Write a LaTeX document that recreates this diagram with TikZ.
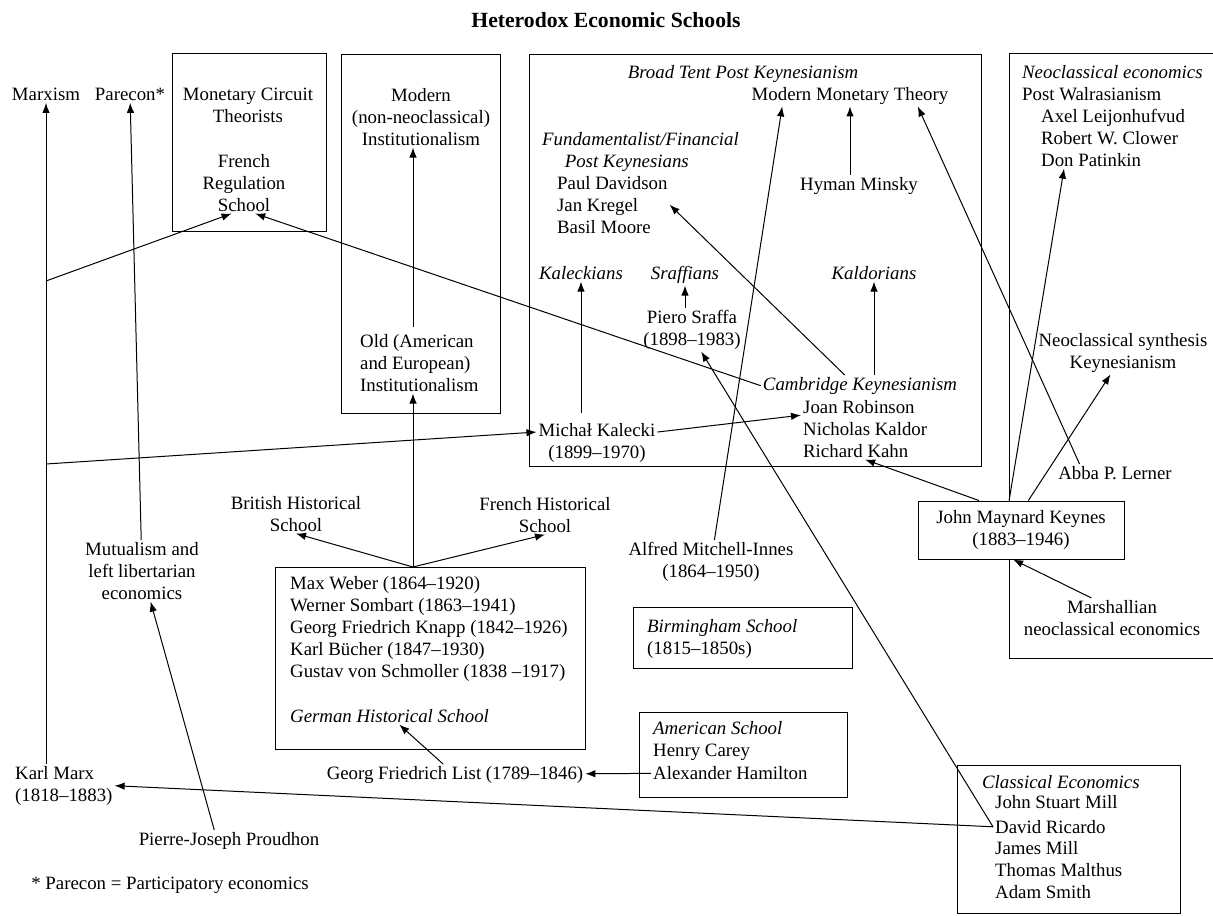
\documentclass[tikz,border=0pt]{standalone}
\usepackage{fontspec}
\setmainfont{Liberation Serif}
\usepackage{tikz}
\usetikzlibrary{arrows.meta}
\newcommand{\diagfont}{\fontsize{11.3}{13.2}\selectfont}

\begin{document}
\begin{tikzpicture}[x=0.6pt, y=-0.6pt, line width=0.6pt, >={Latex[length=6pt, width=4.5pt]},
  every node/.style={font=\diagfont, inner sep=1pt},
  lbl/.style={align=center, anchor=north},
  lst/.style={align=left, anchor=north west},
  school/.style={font=\diagfont\itshape}]

\useasboundingbox (0,0) rectangle (1213,916);

% boxes
\draw (172,54) rectangle (326,232);
\draw (341,55) rectangle (500,413);
\draw (529,55) rectangle (981,466);
\draw (1213,54) -- (1009,54) -- (1009,658) -- (1213,658);
\draw (275,567) rectangle (585,749);
\draw (633,607) rectangle (852,668);
\draw (639,712) rectangle (847,797);
\draw (957,765) rectangle (1180,913);

\node [anchor=north, font=\fontsize{13}{15}\selectfont\bfseries] (title) at (606,10) {Heterodox Economic Schools};

% left column
\node [lbl] (marxism) at (46,86) {Marxism};
\node [lbl] (parecon) at (130,86) {Parecon*};
\node [lbl] (mutualism) at (142,540) {Mutualism and\\left libertarian\\economics};
\node [lst] (marx) at (13,764) {Karl Marx\\(1818--1883)};
\node [lbl] (proudhon) at (229,830) {Pierre-Joseph Proudhon};
\node [lbl] (footnote) at (170,875) {* Parecon = Participatory economics};

\coordinate (mxa) at (46,281);
\coordinate (mxb) at (46,464);

% circuit and institutionalists
\node [lbl] (circuit) at (248,86) {Monetary Circuit\\Theorists};
\node [lbl] (regulation) at (244,152) {French\\Regulation\\School};
\node [lbl] (modinst) at (421,86) {Modern\\(non-neoclassical)\\Institutionalism};
\node [lst] (oldinst) at (358,332) {Old (American\\and European)\\Institutionalism};

% post keynesians
\node [lbl, school] (broadtent) at (743,63) {Broad Tent Post Keynesianism};
\node [lbl] (mmt) at (850,85) {Modern Monetary Theory};
\node [lst, school] (fundam) at (540,130) {Fundamentalist/Financial\\\hspace*{1.2em}Post Keynesians};
\node [lst] (davidson) at (555,174) {Paul Davidson\\Jan Kregel\\Basil Moore};
\node [lbl] (minsky) at (859,175) {Hyman Minsky};
\node [lbl, school] (kaleckians) at (581,264) {Kaleckians};
\node [lbl, school] (sraffians) at (685,264) {Sraffians};
\node [lbl, school] (kaldorians) at (874,264) {Kaldorians};
\node [lbl] (sraffa) at (692,308) {Piero Sraffa\\(1898--1983)};
\node [lbl, school] (cambridge) at (860,375) {Cambridge Keynesianism};
\node [lst] (cambgroup) at (801,398) {Joan Robinson\\Nicholas Kaldor\\Richard Kahn};
\node [lbl] (kalecki) at (597,421) {Michał Kalecki\\(1899--1970)};

% neoclassical side
\node [lst, school] (necon) at (1020,63) {Neoclassical economics};
\node [lst] (walras) at (1020,85) {Post Walrasianism};
\node [lst] (leijon) at (1039,107) {Axel Leijonhufvud\\Robert W. Clower};
\node [lst] (patinkin) at (1039,151) {Don Patinkin};
\node [lbl] (nsk) at (1123,331) {Neoclassical synthesis\\Keynesianism};
\node [lbl] (lerner) at (1115,464) {Abba P. Lerner};
\node [draw, fill=white, align=center, minimum width=123.6pt, minimum height=34.8pt] (keynes) at (1021,530) {John Maynard Keynes\\(1883--1946)};
\node [lbl] (marshall) at (1112,598) {Marshallian\\neoclassical economics};

% historical schools
\node [lbl] (british) at (296,494) {British Historical\\School};
\node [lbl] (frenchhist) at (545,495) {French Historical\\School};
\coordinate (ghstop) at (413,567);
\node [lst] (ghsnames) at (288,574) {Max Weber (1864--1920)\\Werner Sombart (1863--1941)\\Georg Friedrich Knapp (1842--1926)\\Karl Bücher (1847--1930)\\Gustav von Schmoller (1838 --1917)};
\node [lst, school] (ghslabel) at (288,707) {German Historical School};
\node [lbl] (list) at (455,764) {Georg Friedrich List (1789--1846)};
\node [lbl] (alfred) at (711,540) {Alfred Mitchell-Innes\\(1864--1950)};
\node [lst] (birm) at (645,617) {\textit{Birmingham School}\\(1815--1850s)};
\node [lst, school] (amlabel) at (651,719) {American School};
\node [lst] (carey) at (651,742) {Henry Carey};
\node [lst] (hamilton) at (651,764) {Alexander Hamilton};

% classical economics
\node [lst, school] (classical) at (980,773) {Classical Economics};
\node [lst] (jsmill) at (993,793) {John Stuart Mill};
\node [lst] (ricardo) at (993,818) {David Ricardo};
\node [lst] (jmill) at (993,839) {James Mill\\Thomas Malthus\\Adam Smith};

% connections
\path [->] (marxism.south |- marx.north) edge (marxism.south);
\path [->] (mutualism) edge (parecon);
\path [->] (proudhon.144) edge (mutualism);
\path [->] (mxa) edge (regulation.248);
\path [->] (cambridge.west) edge (regulation.290);
\path [->] (mxb) edge (kalecki.170);
\path [->] (kalecki.10) edge (cambgroup.168);
\path [->] ([yshift=5pt]kalecki.north -| kaleckians) edge (kaleckians);
\path [->] (sraffa.north -| sraffians) edge (sraffians);
\path [->] (cambridge.145) edge (davidson.east);
\path [->] (cambridge.north -| kaldorians) edge (kaldorians);
\path [->] (minsky.north -| mmt) edge (mmt);
\path [->] (alfred) edge (mmt.189);
\path [->] (lerner.166) edge (mmt.-9);
\path [->] (ricardo.west) edge (sraffa.-67);
\path [->] (ricardo.west) edge (marx.east);
\path [->] (keynes.145) edge (cambgroup.south);
\path [->] (keynes.112) edge (patinkin.198);
\path [->] (keynes.76) edge (nsk.240);
\path [->] (marshall.136) edge (keynes.255);
\path [->] ([yshift=3pt]oldinst.north -| ghstop) edge (modinst.south -| ghstop);
\path [->] (ghstop) edge (oldinst.south -| ghstop);
\path [->] (ghstop) edge (british.south);
\path [->] (ghstop) edge (frenchhist.south);
\path [->] (list) edge (ghslabel);
\path [->] (hamilton) edge (list);

\end{tikzpicture}
\end{document}
